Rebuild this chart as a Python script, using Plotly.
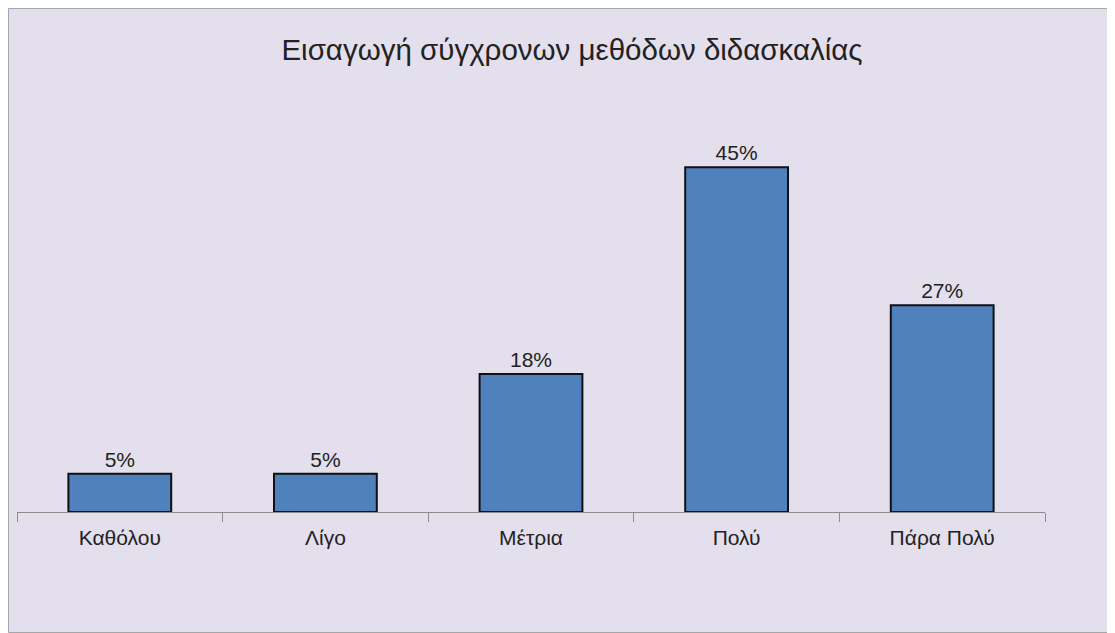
import plotly.graph_objects as go

categories = ["Καθόλου", "Λίγο", "Μέτρια", "Πολύ", "Πάρα Πολύ"]
values = [5, 5, 18, 45, 27]
labels = ["5%", "5%", "18%", "45%", "27%"]
title = "Εισαγωγή σύγχρονων μεθόδων διδασκαλίας"

# page body adds an 8px offset, so the figure is sized to fit the window
W, H = 1107, 625
ml, mt = 9, 121
pw, ph = 1028, 383
mr = W - ml - pw
mb = H - mt - ph

fig = go.Figure(go.Bar(
    x=categories, y=values, text=labels, textposition="outside",
    textfont=dict(size=21, color="#222222"),
    marker=dict(color="#4F81BD", line=dict(color="#111111", width=2)),
    cliponaxis=False,
))

bg = "#E4DFEC"
fig.update_layout(
    width=W, height=H,
    margin=dict(l=ml, r=mr, t=mt, b=mb),
    paper_bgcolor=bg, plot_bgcolor=bg,
    font=dict(family="Liberation Sans, Arial, sans-serif", color="#222222"),
    title=dict(text=title, x=(572 - 8) / W, xref="container", xanchor="center",
               y=1 - 42 / H, yanchor="middle", yref="container",
               font=dict(size=29.5, color="#222222")),
    bargap=0.5,
    showlegend=False,
    xaxis=dict(showline=True, linecolor="#8C8C8C", linewidth=1,
               ticks="outside", tickson="boundaries", ticklen=9,
               tickcolor="#8C8C8C", tickfont=dict(size=21, color="#222222"),
               ticklabelstandoff=7,
               range=[-0.5, 4.5], showgrid=False),
    yaxis=dict(range=[0, 50], visible=False, showgrid=False),
)

# thin outer border around the whole figure
fig.add_shape(type="rect", xref="paper", yref="paper",
              x0=(0.5 - ml) / pw, x1=(W - 0.5 - ml) / pw,
              y0=-(mb - 0.5) / ph, y1=1 + (mt - 0.5) / ph,
              line=dict(color="#A6A6A6", width=1), layer="below")

fig.write_html("out.html")
